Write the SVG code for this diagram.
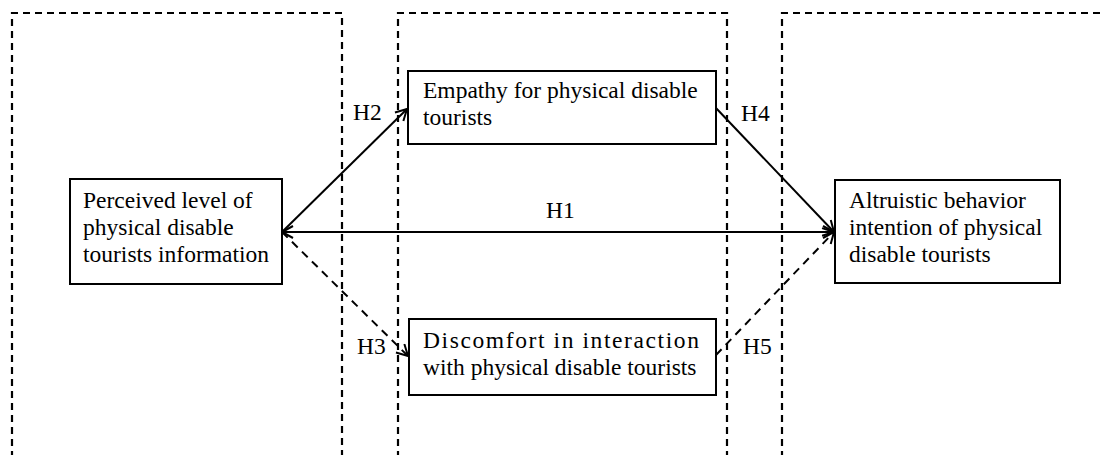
<svg xmlns="http://www.w3.org/2000/svg" width="1105" height="455" viewBox="0 0 1105 455">
<style>
.panel{fill:none;stroke:#000;stroke-width:2.2;stroke-dasharray:7,5}
.box{fill:#fff;stroke:#000;stroke-width:2}
.t{font-family:"Liberation Serif","Times New Roman",serif;font-size:23.5px;fill:#000}
.c{fill:none;stroke:#000;stroke-width:2}
.d{stroke-dasharray:8,6}
</style>
<defs>
<marker id="ah" markerUnits="userSpaceOnUse" markerWidth="16" markerHeight="16" refX="12" refY="7" orient="auto-start-reverse">
<path d="M1,1 L12,7 L1,13" fill="none" stroke="#000" stroke-width="2"/>
</marker>
</defs>
<g id="panels">
<path class="panel" d="M12,470 V13 H342 V470"/>
<path class="panel" d="M398,470 V13 H727 V470"/>
<path class="panel" d="M782,470 V13 H1110"/>
</g>
<g id="connectors">
<line class="c" x1="282" y1="232" x2="834" y2="232" marker-start="url(#ah)" marker-end="url(#ah)"/>
<line class="c" x1="282" y1="232" x2="407" y2="109" marker-end="url(#ah)"/>
<line class="c d" x1="282" y1="232" x2="408" y2="356" marker-end="url(#ah)"/>
<line class="c" x1="715" y1="107" x2="834" y2="232" marker-end="url(#ah)"/>
<line class="c d" x1="716" y1="355" x2="834" y2="232" marker-end="url(#ah)"/>
<text class="t" x="546" y="218">H1</text>
<text class="t" x="353" y="120">H2</text>
<text class="t" x="357" y="354">H3</text>
<text class="t" x="741" y="121">H4</text>
<text class="t" x="743" y="354">H5</text>
</g>
<g id="perceived">
<rect class="box" x="70" y="179" width="212" height="105"/>
<text class="t" x="83" y="208">Perceived level of</text>
<text class="t" x="83" y="235">physical disable</text>
<text class="t" x="83" y="262">tourists information</text>
</g>
<g id="empathy">
<rect class="box" x="408" y="71" width="308" height="73"/>
<text class="t" x="423" y="98">Empathy for physical disable</text>
<text class="t" x="423" y="125">tourists</text>
</g>
<g id="discomfort">
<rect class="box" x="409" y="319" width="307" height="76"/>
<text class="t" x="423" y="348" letter-spacing="1.6">Discomfort in interaction</text>
<text class="t" x="423" y="375">with physical disable tourists</text>
</g>
<g id="altruistic">
<rect class="box" x="835" y="180" width="225" height="103"/>
<text class="t" x="849" y="208">Altruistic behavior</text>
<text class="t" x="849" y="235">intention of physical</text>
<text class="t" x="849" y="262">disable tourists</text>
</g>
</svg>
